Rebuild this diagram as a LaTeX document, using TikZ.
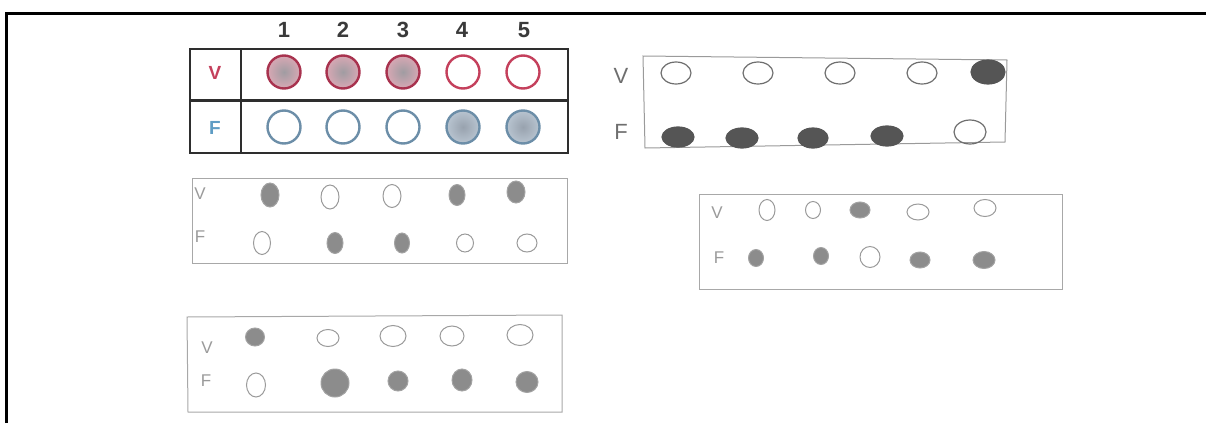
\documentclass[tikz,border=0pt]{standalone}
\usepackage{fontspec}
\setmainfont{Liberation Sans}
\usetikzlibrary{shapes.geometric}
\definecolor{vred}{HTML}{C4405C}
\definecolor{vreddk}{HTML}{A8324E}
\definecolor{fblue}{HTML}{5E9CC4}
\definecolor{fbluedk}{HTML}{6C8EA8}
\definecolor{tbl}{HTML}{2E2E2E}
\definecolor{numc}{HTML}{3A3A3A}
\definecolor{pencil}{HTML}{9A9A9A}
\definecolor{pencilb}{HTML}{A8A8A8}
\definecolor{pencildk}{HTML}{6E6E6E}
\definecolor{shade}{HTML}{8C8C8C}
\definecolor{shadedk}{HTML}{555555}
\definecolor{vfill}{HTML}{A09CA2}
\definecolor{vring}{HTML}{D8A8B4}
\definecolor{ffill}{HTML}{98A2AE}
\definecolor{fring}{HTML}{B8C4D0}
\tikzset{
  num/.style={font=\bfseries\fontsize{22}{24}\selectfont, text=numc, inner sep=0},
  rowlab/.style={font=\bfseries\fontsize{19}{21}\selectfont, inner sep=0},
  tcv/.style={circle, draw=vred, line width=2.4pt, minimum size=33pt, inner sep=0},
  tcvf/.style={tcv, draw=vreddk, inner color=vfill, outer color=vring},
  tcf/.style={circle, draw=fbluedk, line width=2.4pt, minimum size=33pt, inner sep=0},
  tcff/.style={tcf, inner color=ffill, outer color=fring},
  hand/.style={font=\fontsize{17}{19}\selectfont, text=pencil, inner sep=0},
  handdk/.style={font=\fontsize{22}{24}\selectfont, text=pencildk, inner sep=0},
  ov/.style 2 args={ellipse, draw=pencil, line width=1pt, minimum width=#1, minimum height=#2, inner sep=0},
  ovf/.style 2 args={ov={#1}{#2}, fill=shade, draw=shade!80!white},
  dk/.style 2 args={ellipse, draw=pencildk, line width=1.2pt, minimum width=#1, minimum height=#2, inner sep=0},
  dkf/.style 2 args={dk={#1}{#2}, fill=shadedk, draw=shadedk},
  sbox/.style={draw=pencilb, line width=1pt},
}
\begin{document}
\begin{tikzpicture}[x=1pt,y=-1pt]
\useasboundingbox (0,0) rectangle (1206,423);
% outer frame
\draw[line width=3pt] (6.5,423) -- (6.5,13) -- (1206,13);

% printed table
\draw[draw=tbl, line width=2.5pt] (190,49) rectangle (568,153);
\draw[draw=tbl, line width=2.5pt] (241,49) -- (241,153);
\draw[draw=tbl, line width=2.5pt] (190,100.5) -- (568,100.5);
\node[num] (h1) at (284,30) {1};
\node[num] (h2) at (343,30) {2};
\node[num] (h3) at (403,30) {3};
\node[num] (h4) at (462,30) {4};
\node[num] (h5) at (524,30) {5};
\node[rowlab, text=vred] (tv) at (215,73) {V};
\node[rowlab, text=fblue] (tf) at (215,128) {F};
\node[tcvf] (tv1) at (284,72) {};
\node[tcvf] (tv2) at (343,72) {};
\node[tcvf] (tv3) at (403,72) {};
\node[tcv] (tv4) at (463,72) {};
\node[tcv] (tv5) at (523,72) {};
\node[tcf] (tf1) at (284,127) {};
\node[tcf] (tf2) at (343,127) {};
\node[tcf] (tf3) at (403,127) {};
\node[tcff] (tf4) at (463,127) {};
\node[tcff] (tf5) at (523,127) {};

% sketch 2 (top right)
\draw[draw=pencil, line width=1pt] (643,56) -- (1007,60) -- (1005,142) -- (645,148) -- cycle;
\node[handdk] (s2v) at (621,76) {V};
\node[handdk] (s2f) at (621,132) {F};
\node[dk={30pt}{22pt}] (s2v1) at (676,73) {};
\node[dk={30pt}{22pt}] (s2v2) at (758,73) {};
\node[dk={30pt}{22pt}] (s2v3) at (840,73) {};
\node[dk={30pt}{22pt}] (s2v4) at (922,73) {};
\node[dkf={34pt}{24pt}] (s2v5) at (988,72) {};
\node[dkf={32pt}{20pt}] (s2f1) at (678,137) {};
\node[dkf={32pt}{20pt}] (s2f2) at (742,138) {};
\node[dkf={30pt}{20pt}] (s2f3) at (813,138) {};
\node[dkf={32pt}{20pt}] (s2f4) at (887,136) {};
\node[dk={32pt}{24pt}] (s2f5) at (970,132) {};

% sketch 3 (middle left)
\draw[sbox] (192,178) rectangle (567,263);
\node[hand] (s3v) at (200,194) {V};
\node[hand] (s3f) at (200,237) {F};
\node[ovf={18pt}{24pt}] (s3v1) at (270,195) {};
\node[ov={18pt}{24pt}] (s3v2) at (330,197) {};
\node[ov={18pt}{23pt}] (s3v3) at (392,196) {};
\node[ovf={16pt}{21pt}] (s3v4) at (457,195) {};
\node[ovf={18pt}{22pt}] (s3v5) at (516,192) {};
\node[ov={17pt}{23pt}] (s3f1) at (262,243) {};
\node[ovf={16pt}{21pt}] (s3f2) at (335,243) {};
\node[ovf={15pt}{20pt}] (s3f3) at (402,243) {};
\node[ov={17pt}{18pt}] (s3f4) at (465,243) {};
\node[ov={20pt}{18pt}] (s3f5) at (527,243) {};

% sketch 4 (middle right)
\draw[sbox] (699,194) rectangle (1062,289);
\node[hand] (s4v) at (717,213) {V};
\node[hand] (s4f) at (719,258) {F};
\node[ov={16pt}{21pt}] (s4v1) at (767,210) {};
\node[ov={15pt}{17pt}] (s4v2) at (813,210) {};
\node[ovf={20pt}{16pt}] (s4v3) at (860,210) {};
\node[ov={22pt}{16pt}] (s4v4) at (918,212) {};
\node[ov={22pt}{17pt}] (s4v5) at (985,208) {};
\node[ovf={15pt}{17pt}] (s4f1) at (756,258) {};
\node[ovf={15pt}{17pt}] (s4f2) at (821,256) {};
\node[ov={20pt}{21pt}] (s4f3) at (870,257) {};
\node[ovf={20pt}{16pt}] (s4f4) at (920,260) {};
\node[ovf={22pt}{17pt}] (s4f5) at (984,260) {};

% sketch 5 (bottom left)
\draw[sbox] (187,317) -- (562,315) -- (562,412) -- (188,412) -- cycle;
\node[hand] (s5v) at (207,348) {V};
\node[hand] (s5f) at (206,381) {F};
\node[ovf={19pt}{18pt}] (s5v1) at (255,337) {};
\node[ov={22pt}{17pt}] (s5v2) at (328,338) {};
\node[ov={26pt}{21pt}] (s5v3) at (393,336) {};
\node[ov={24pt}{20pt}] (s5v4) at (452,336) {};
\node[ov={26pt}{21pt}] (s5v5) at (520,335) {};
\node[ov={19pt}{24pt}] (s5f1) at (256,385) {};
\node[ovf={28pt}{28pt}] (s5f2) at (335,383) {};
\node[ovf={20pt}{20pt}] (s5f3) at (398,381) {};
\node[ovf={20pt}{22pt}] (s5f4) at (462,380) {};
\node[ovf={22pt}{21pt}] (s5f5) at (527,382) {};
\end{tikzpicture}
\end{document}
